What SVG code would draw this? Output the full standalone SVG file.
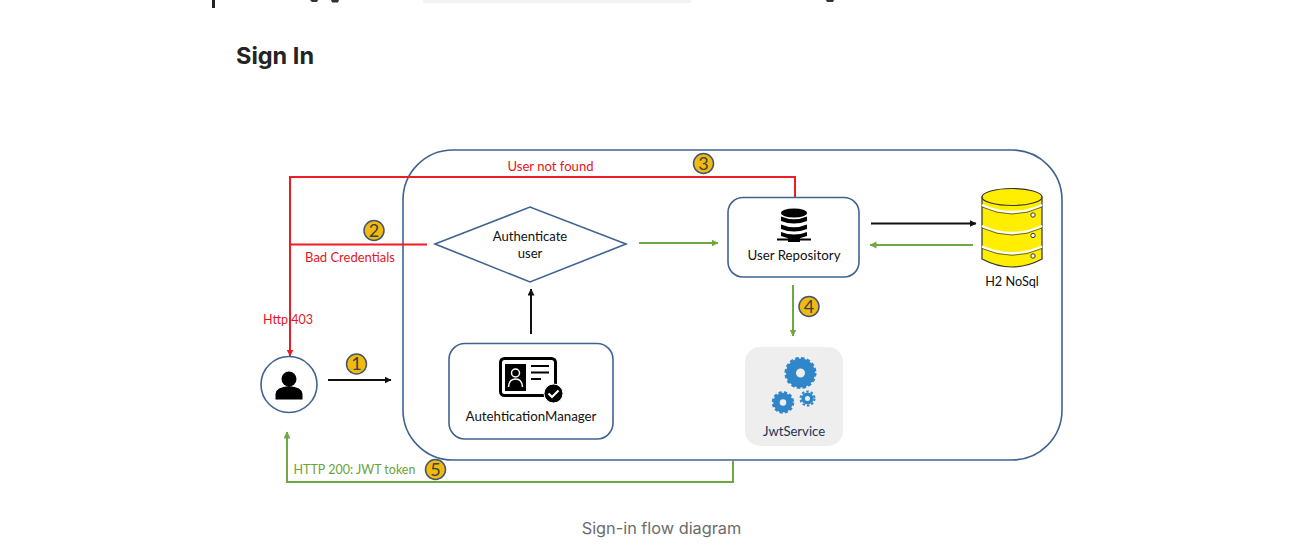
<svg xmlns="http://www.w3.org/2000/svg" width="1293" height="548" viewBox="0 0 1293 548">
<style>
.t{font-family:Lato,"Liberation Sans",sans-serif;font-size:13.100px;fill:#111;text-anchor:middle}
.box{fill:#fff;stroke:#3f6391;stroke-width:1.6}
.ln{fill:none;stroke-width:2}
.red{stroke:#ee1c25}
.grn{stroke:#6fa842}
.blk{stroke:#111}
.bad{fill:#f2b90f;stroke:#43566b;stroke-width:1.5}
.num{font-family:Lato,"Liberation Sans",sans-serif;font-size:18px;fill:#3a4444;text-anchor:middle}
.cyl{fill:#ffee00;stroke:#333;stroke-width:1.2}
.band{fill:none;stroke:#fff;stroke-width:2.400}
.edge{fill:none;stroke:#444;stroke-width:.8}
</style>
<defs>
<marker id="ab" markerWidth="8" markerHeight="8" refX="6.5" refY="3.5" orient="auto" markerUnits="userSpaceOnUse"><path d="M0 0L7 3.5L0 7z" fill="#111"/></marker>
<marker id="ag" markerWidth="8" markerHeight="8" refX="6.5" refY="3.5" orient="auto" markerUnits="userSpaceOnUse"><path d="M0 0L7 3.5L0 7z" fill="#6fa842"/></marker>
<marker id="ar" markerWidth="8" markerHeight="8" refX="6.5" refY="3.5" orient="auto" markerUnits="userSpaceOnUse"><path d="M0 0L7 3.5L0 7z" fill="#ee1c25"/></marker>
</defs>
<rect width="1293" height="548" fill="#fff"/>
<rect x="212" y="0" width="3" height="8" fill="#222"/>
<path d="M310 0h8l-1 2h-5zM331 0h8l-1 2.500h-6zM826 0h8l-1 2h-6z" fill="#333"/>
<rect x="423" y="0" width="268" height="3" fill="#f2f2f2"/>
<text x="236" y="64" font-family="Inter,Roboto,'Liberation Sans',sans-serif" font-weight="700" font-size="23.5px" fill="#242424">Sign In</text>

<g id="container"><rect x="403" y="150" width="659" height="310" rx="50" fill="none" stroke="#3f6391" stroke-width="1.6"/></g>

<g id="connectors">
<path class="ln red" d="M795 197V177H290V356" marker-end="url(#ar)"/>
<path class="ln red" d="M290 244.500H427"/>
<path class="ln grn" d="M639 243H718" marker-end="url(#ag)"/>
<path class="ln blk" d="M871 223.500H976" marker-end="url(#ab)"/>
<path class="ln grn" d="M973 245H870" marker-end="url(#ag)"/>
<path class="ln grn" d="M793 285V336" marker-end="url(#ag)"/>
<path class="ln blk" d="M531 334V289" marker-end="url(#ab)"/>
<path class="ln blk" d="M328 380H391" marker-end="url(#ab)"/>
<path class="ln grn" d="M733 461V482H287V432" marker-end="url(#ag)"/>
</g>

<g id="user">
<circle cx="289" cy="384.500" r="28" class="box"/>
<circle cx="289" cy="379" r="7.500" fill="#000"/>
<path d="M275.500 399.500V394Q276 387 289 386Q302 387 302.500 394V399.500Z" fill="#000"/>
</g>

<g id="authenticate">
<polygon points="435,244 530,207 626,244 530,282" class="box"/>
<text x="530" y="240.500" class="t">Authenticate</text>
<text x="530" y="258" class="t">user</text>
</g>

<g id="manager">
<rect x="449" y="343.500" width="164" height="95.500" rx="16" class="box"/>
<rect x="500.500" y="358.500" width="55" height="37" rx="4" fill="#fff" stroke="#000" stroke-width="3"/>
<rect x="505" y="364" width="21" height="27" fill="#000"/>
<circle cx="515.500" cy="373" r="4" fill="none" stroke="#fff" stroke-width="1.500"/>
<path d="M508.500 387Q509 379 515.500 379Q522 379 522.500 387" fill="none" stroke="#fff" stroke-width="1.500"/>
<path d="M531 366H549M531 372.500H549M531 379H541" stroke="#000" stroke-width="2.200" fill="none"/>
<circle cx="553.500" cy="393.500" r="9.500" fill="#000" stroke="#fff" stroke-width="1"/>
<path d="M548.500 393.500L552 397L558.500 390.500" fill="none" stroke="#fff" stroke-width="2.200"/>
<text x="531" y="421" class="t" style="font-size:13.300px">AutehticationManager</text>
</g>

<g id="repository">
<rect x="728" y="197.500" width="131" height="79.500" rx="15" class="box"/>
<ellipse cx="794" cy="213" rx="13" ry="4.500" fill="#000"/>
<path d="M781 216.500Q794 222 807 216.500V221Q794 226 781 221Z" fill="#000"/>
<path d="M781 224.500Q794 230 807 224.500V229Q794 234 781 229Z" fill="#000"/>
<path d="M781 232Q794 237 807 232V236Q794 241 781 236Z" fill="#000"/>
<path d="M794 238V240M777 239.500H811" stroke="#000" stroke-width="1.800"/>
<rect x="788" y="237" width="12" height="5" fill="#000"/>
<text x="794" y="260" class="t" style="font-size:13.300px">User Repository</text>
</g>

<g id="h2">
<path d="M982 197V259Q1012 275 1042 259V197Z" class="cyl"/>
<path d="M982 205Q1012 219 1042 205M982 226Q1012 240 1042 226M982 246.500Q1012 260 1042 246.500" class="band"/>
<path d="M982 207Q1012 221 1042 207M982 228Q1012 242 1042 228M982 248.500Q1012 262 1042 248.500" class="edge"/>
<ellipse cx="1012" cy="197" rx="30" ry="8.500" class="cyl"/>
<circle cx="1033" cy="215" r="2.200" fill="#fff" stroke="#333"/>
<circle cx="1033" cy="235.500" r="2.200" fill="#fff" stroke="#333"/>
<circle cx="1033" cy="256" r="2.200" fill="#fff" stroke="#333"/>
<text x="1012" y="286" class="t" style="font-size:12.700px">H2 NoSql</text>
</g>

<g id="jwtservice">
<rect x="745" y="347" width="98" height="99" rx="15" fill="#eeeeef"/>
<circle cx="800.500" cy="373" r="9.500" fill="none" stroke="#2f86c9" stroke-width="10"/>
<circle cx="800.500" cy="373" r="14.500" fill="none" stroke="#2f86c9" stroke-width="3" stroke-dasharray="3.500 2.200"/>
<circle cx="783" cy="402.500" r="6.500" fill="none" stroke="#2f86c9" stroke-width="6.500"/>
<circle cx="783" cy="402.500" r="10" fill="none" stroke="#2f86c9" stroke-width="2.500" stroke-dasharray="3.200 2.100"/>
<circle cx="807.500" cy="398.500" r="4.300" fill="none" stroke="#2f86c9" stroke-width="3.600"/>
<circle cx="807.500" cy="398.500" r="7" fill="none" stroke="#2f86c9" stroke-width="2" stroke-dasharray="2.500 2"/>
<text x="794" y="436" class="t" style="fill:#24324f">JwtService</text>
</g>

<g id="labels">
<text x="550.500" y="171" class="t" style="fill:#e8141c">User not found</text>
<text x="350" y="262" class="t" style="fill:#e8141c;font-size:13px">Bad Credentials</text>
<text x="288" y="324" class="t" style="fill:#e8141c;font-size:12.500px">Http 403</text>
<text x="354.500" y="474" class="t" style="fill:#6aa33a;font-size:12.500px">HTTP 200: JWT token</text>
</g>

<g id="badges">
<circle cx="356.500" cy="364" r="10" class="bad"/><text x="356.500" y="370" class="num">1</text>
<circle cx="374" cy="230.500" r="10" class="bad"/><text x="374" y="236.500" class="num">2</text>
<circle cx="703.500" cy="163.500" r="10" class="bad"/><text x="703.500" y="169.500" class="num">3</text>
<circle cx="809" cy="306.500" r="10" class="bad"/><text x="809" y="312.500" class="num">4</text>
<circle cx="435.500" cy="469.500" r="10" class="bad"/><text x="435.500" y="475.500" class="num">5</text>
</g>

<text x="661.500" y="534" text-anchor="middle" font-family="Inter,Roboto,'Liberation Sans',sans-serif" font-size="16.300px" fill="#6b6b6b">Sign-in flow diagram</text>
</svg>
